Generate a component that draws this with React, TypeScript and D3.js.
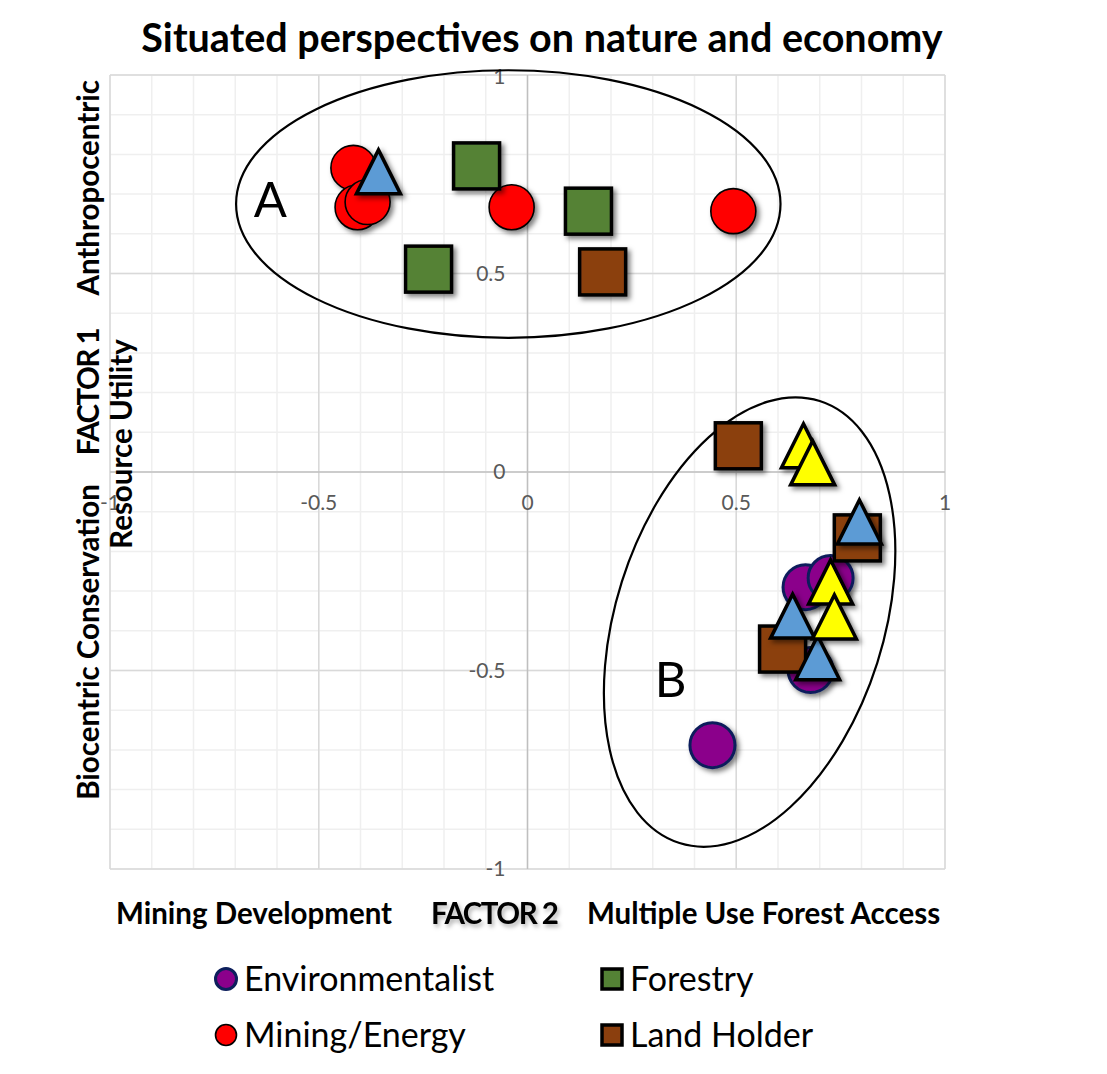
import { scaleLinear } from "d3";
import { useMemo } from "react";

type Pair = readonly [number, number];

// factor loadings: [factor 2, factor 1]
const environmentalist: readonly Pair[] = [
  [0.666, -0.29],
  [0.726, -0.267],
  [0.678, -0.499],
  [0.443, -0.688]
];
const miningEnergy: readonly Pair[] = [
  [-0.417, 0.766],
  [-0.407, 0.667],
  [-0.383, 0.68],
  [-0.038, 0.667],
  [0.493, 0.657]
];
const forestry: readonly Pair[] = [
  [-0.122, 0.771],
  [-0.237, 0.511],
  [0.146, 0.657]
];
const landHolder: readonly Pair[] = [
  [0.18, 0.504],
  [0.505, 0.066],
  [0.79, -0.166],
  [0.611, -0.446]
];
const blueSeries: readonly Pair[] = [
  [-0.357, 0.756],
  [0.795, -0.126],
  [0.635, -0.363],
  [0.695, -0.468]
];
const yellowSeries: readonly Pair[] = [
  [0.661, 0.066],
  [0.683, 0.023],
  [0.726, -0.277],
  [0.735, -0.365]
];

const seriesNames = [
  "Environmentalist",
  "Mining/Energy",
  "Forestry",
  "Land Holder",
  "Series 5",
  "Series 6"
];
const legendNames = ["Environmentalist", "Forestry", "Mining/Energy", "Land Holder"];

const xTickValues = [-1, -0.5, 0, 0.5, 1];
const yTickValues = [1, 0.5, 0, -0.5, -1];

const clusterLabels = ["A", "B"];
const clusterCenters: readonly Pair[] = [
  [-0.046, 0.675],
  [0.532, -0.378]
];
const clusterRadii: readonly Pair[] = [
  [0.652, 0.337],
  [0.321, 0.584]
];
const clusterTilt = [0, 17.6];
const clusterLabelAt: readonly Pair[] = [
  [-0.616, 0.642],
  [0.343, -0.567]
];

const width = 1107;
const height = 1074;
const font = "Lato, 'Open Sans', sans-serif";

type Shape = "circle" | "square" | "triangle";

interface SeriesStyle {
  readonly shape: Shape;
  readonly fill: string;
  readonly stroke: string;
  readonly strokeWidth: number;
}

const styles: Record<string, SeriesStyle> = {
  Environmentalist: { shape: "circle", fill: "#8b008b", stroke: "#0d1f5c", strokeWidth: 3 },
  "Mining/Energy": { shape: "circle", fill: "#ff0000", stroke: "#000", strokeWidth: 1.6 },
  Forestry: { shape: "square", fill: "#548235", stroke: "#000", strokeWidth: 3.5 },
  "Land Holder": { shape: "square", fill: "#8b3f0e", stroke: "#000", strokeWidth: 3.5 },
  "Series 5": { shape: "triangle", fill: "#5b9bd5", stroke: "#000", strokeWidth: 3.5 },
  "Series 6": { shape: "triangle", fill: "#ffff00", stroke: "#000", strokeWidth: 3.5 }
};

const seriesData = [environmentalist, miningEnergy, forestry, landHolder, blueSeries, yellowSeries];

function Marker({ style, size }: { style: SeriesStyle; size: number }): React.JSX.Element {
  const h = size / 2;
  if (style.shape === "circle") {
    return <circle r={h} fill={style.fill} stroke={style.stroke} strokeWidth={style.strokeWidth} />;
  }
  if (style.shape === "square") {
    return (
      <rect
        x={-h}
        y={-h}
        width={size}
        height={size}
        fill={style.fill}
        stroke={style.stroke}
        strokeWidth={style.strokeWidth}
      />
    );
  }
  return (
    <path
      d={`M0,${-h}L${h},${h}L${-h},${h}Z`}
      fill={style.fill}
      stroke={style.stroke}
      strokeWidth={style.strokeWidth}
      strokeLinejoin="miter"
    />
  );
}

export default function App(): React.JSX.Element {
  const x = useMemo(() => scaleLinear().domain([-1, 1]).range([110, 945]), []);
  const y = useMemo(() => scaleLinear().domain([-1, 1]).range([869, 75]), []);
  const minor = x.ticks(20);
  const major = x.ticks(4);
  const kx = x(1) - x(0);
  const ky = y(0) - y(1);

  return (
    <svg
      width={width}
      height={height}
      viewBox={`0 0 ${width} ${height}`}
      style={{ position: "absolute", left: 0, top: 0, background: "#fff" }}
      fontFamily={font}
    >
      <defs>
        <filter id="shadow" x="-60%" y="-60%" width="220%" height="220%">
          <feDropShadow dx="3" dy="3" stdDeviation="2.5" floodColor="#000" floodOpacity="0.5" />
        </filter>
        <filter id="textShadow" x="-20%" y="-50%" width="140%" height="200%">
          <feDropShadow dx="2" dy="3" stdDeviation="2" floodColor="#000" floodOpacity="0.3" />
        </filter>
      </defs>

      <text x={542} y={52} textAnchor="middle" fontSize={39.5} fontWeight={700}>
        Situated perspectives on nature and economy
      </text>

      {/* grid */}
      <g>
        {minor.map((v) => (
          <line key={`vx${v}`} x1={x(v)} x2={x(v)} y1={y(1)} y2={y(-1)} stroke="#efefef" strokeWidth={1.5} />
        ))}
        {minor.map((v) => (
          <line key={`hy${v}`} x1={x(-1)} x2={x(1)} y1={y(v)} y2={y(v)} stroke="#efefef" strokeWidth={1.5} />
        ))}
        {major
          .filter((v) => v !== 0)
          .map((v) => (
            <g key={`mj${v}`}>
              <line x1={x(v)} x2={x(v)} y1={y(1)} y2={y(-1)} stroke="#d9d9d9" strokeWidth={1.5} />
              <line x1={x(-1)} x2={x(1)} y1={y(v)} y2={y(v)} stroke="#d9d9d9" strokeWidth={1.5} />
            </g>
          ))}
        <line x1={x(0)} x2={x(0)} y1={y(1)} y2={y(-1)} stroke="#bfbfbf" strokeWidth={1.5} />
        <line x1={x(-1)} x2={x(1)} y1={y(0)} y2={y(0)} stroke="#bfbfbf" strokeWidth={1.5} />
      </g>

      {/* tick labels */}
      <g fontSize={21} fill="#595959">
        {xTickValues.map((v) => (
          <text key={`xt${v}`} x={x(v)} y={y(0) + 38} textAnchor="middle">
            {String(v)}
          </text>
        ))}
        {yTickValues.map((v) => (
          <text key={`yt${v}`} x={x(0) - 22} y={y(v) + (v === 1 ? 9 : 7)} textAnchor="end">
            {String(v)}
          </text>
        ))}
      </g>

      {/* cluster outlines */}
      {clusterLabels.map((label, i) => {
        const [cx, cy] = clusterCenters[i];
        const [rx, ry] = clusterRadii[i];
        const [lx, ly] = clusterLabelAt[i];
        return (
          <g key={label}>
            <ellipse
              cx={0}
              cy={0}
              rx={rx * kx}
              ry={ry * ky}
              fill="none"
              stroke="#000"
              strokeWidth={2.2}
              transform={`translate(${x(cx)},${y(cy)}) rotate(${clusterTilt[i]})`}
            />
            <text x={x(lx)} y={y(ly)} textAnchor="middle" fontSize={49}>
              {label}
            </text>
          </g>
        );
      })}

      {/* markers */}
      {seriesNames.map((name, si) => {
        const st = styles[name];
        const size = st.shape === "circle" ? 45 : st.shape === "square" ? 46 : 44;
        return (
          <g key={name} filter="url(#shadow)">
            {seriesData[si].map(([vx, vy], i) => (
              <g key={i} transform={`translate(${x(vx)},${y(vy)})`}>
                <Marker style={st} size={size} />
              </g>
            ))}
          </g>
        );
      })}

      {/* axis titles */}
      <g fontWeight={700} fontSize={29.5}>
        <text x={116} y={924}>Mining Development</text>
        <text x={431} y={924} letterSpacing={-1.5} filter="url(#textShadow)">FACTOR 2</text>
        <text x={587} y={924}>Multiple Use Forest Access</text>
        <text transform="translate(99,80) rotate(-90)" textAnchor="end">Anthropocentric</text>
        <text transform="translate(99,392) rotate(-90)" textAnchor="middle" letterSpacing={-1.5}>FACTOR 1</text>
        <text transform="translate(99,642) rotate(-90)" textAnchor="middle">Biocentric Conservation</text>
        <text transform="translate(132,444) rotate(-90)" textAnchor="middle">Resource Utility</text>
      </g>

      {/* legend */}
      <g fontSize={34}>
        {legendNames.map((name, i) => {
          const col = i % 2;
          const row = Math.floor(i / 2);
          const mx = col === 0 ? 226 : 612;
          const my = row === 0 ? 979 : 1035;
          const st = styles[name];
          return (
            <g key={name}>
              <g transform={`translate(${mx},${my})`}>
                <Marker style={st} size={st.shape === "circle" ? 21 : 20} />
              </g>
              <text x={mx + 18} y={my + 12}>
                {name}
              </text>
            </g>
          );
        })}
      </g>
    </svg>
  );
}
